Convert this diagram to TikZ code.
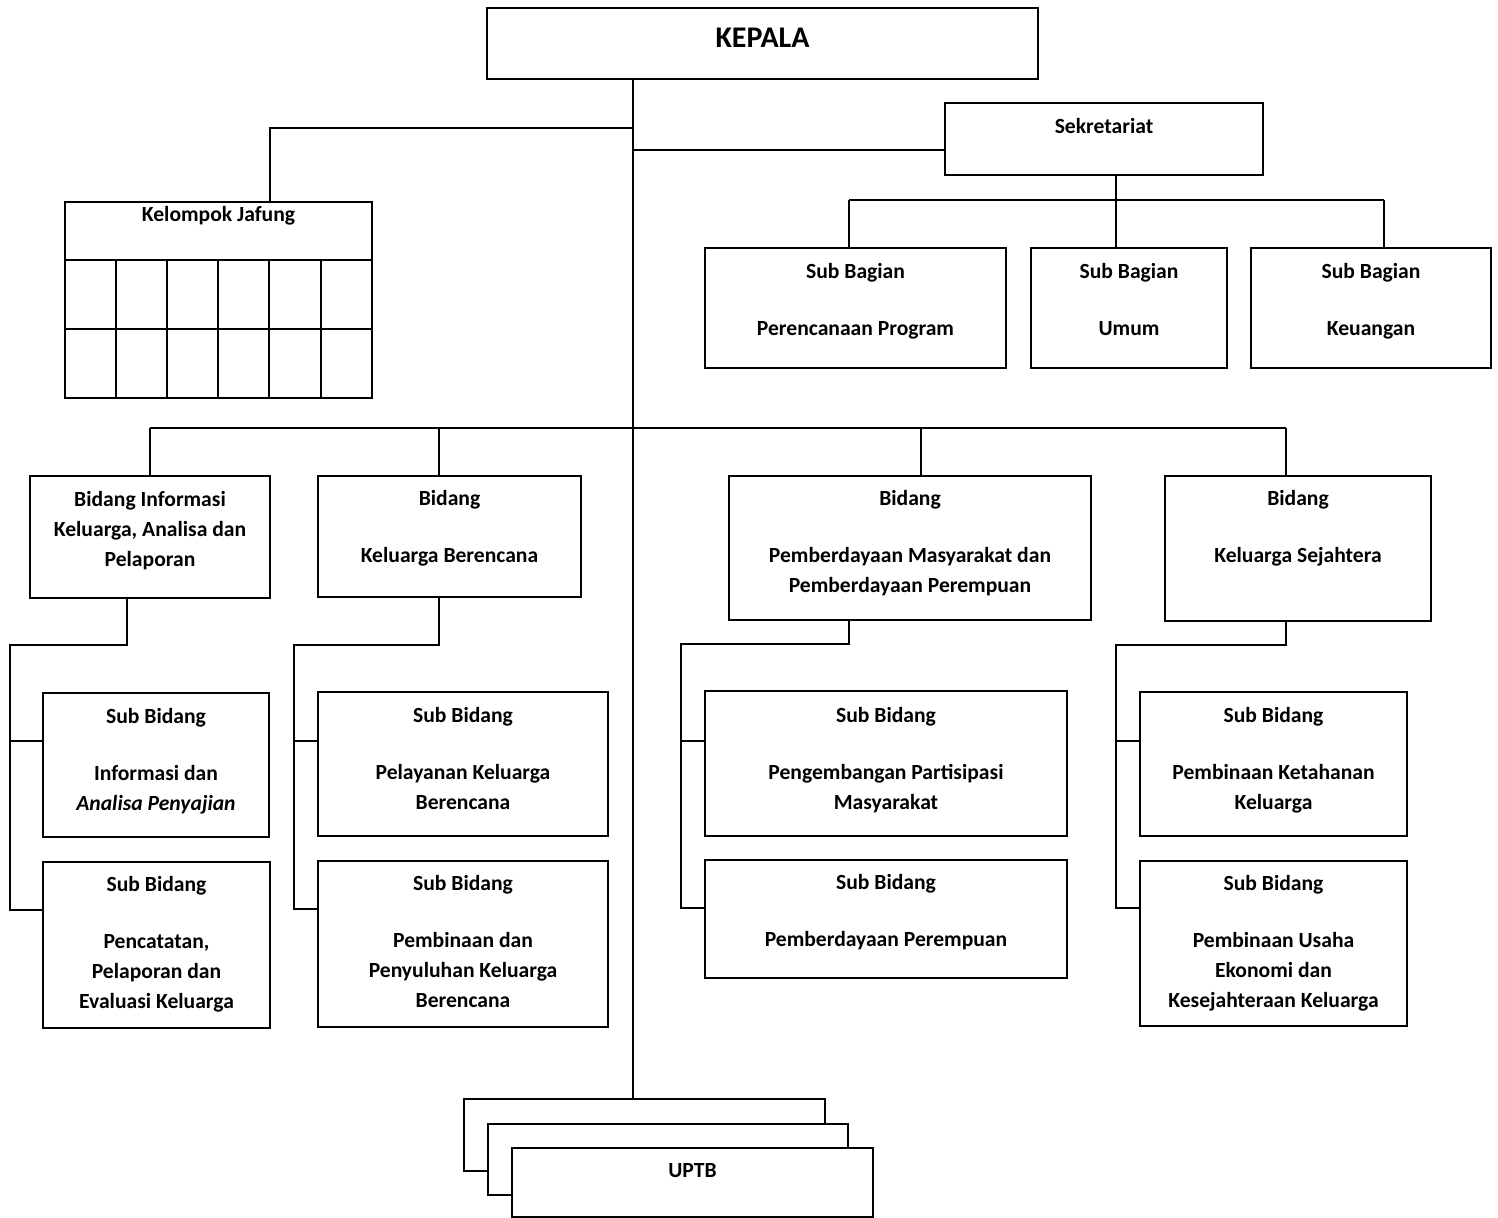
\documentclass[tikz,border=0pt]{standalone}
\usepackage{fontspec}
\setmainfont{Carlito}
\tikzset{
  bx/.style={draw, line width=0.9pt, inner sep=0pt, outer sep=0pt, anchor=north west, fill=white},
  tx/.style={font=\bfseries\fontsize{10.8}{15}\selectfont, align=center, inner sep=0pt, anchor=north},
  ln/.style={line width=0.9pt}
}
\newcommand\mkbox[5]{\node[bx, minimum width={(#4-#2)*0.5pt}, minimum height={(#5-#3)*0.5pt}] (#1) at (#2,#3) {};}
\begin{document}
\begin{tikzpicture}[x=0.5pt,y=-0.5pt]
\useasboundingbox (0,0) rectangle (1498,1218);
% boxes
\mkbox{kepala}{487}{8}{1038}{79}
\mkbox{sek}{945}{103}{1263}{175}
\mkbox{jafung}{65}{202}{372}{398}
\mkbox{sbg1}{705}{248}{1006}{368}
\mkbox{sbg2}{1031}{248}{1227}{368}
\mkbox{sbg3}{1251}{248}{1491}{368}
\mkbox{bid1}{30}{476}{270}{598}
\mkbox{bid2}{318}{476}{581}{597}
\mkbox{bid3}{729}{476}{1091}{620}
\mkbox{bid4}{1165}{476}{1431}{621}
\mkbox{sa1}{43}{693}{269}{837}
\mkbox{sa2}{43}{862}{270}{1028}
\mkbox{sb1}{318}{692}{608}{836}
\mkbox{sb2}{318}{861}{608}{1027}
\mkbox{sc1}{705}{691}{1067}{836}
\mkbox{sc2}{705}{860}{1067}{978}
\mkbox{sd1}{1140}{692}{1407}{836}
\mkbox{sd2}{1140}{861}{1407}{1026}
\mkbox{uA}{464}{1099}{825}{1171}
\mkbox{uB}{488}{1124}{848}{1195}
\mkbox{uC}{512}{1148}{873}{1217}

% texts
\node[font=\bfseries\fontsize{15}{18}\selectfont, inner sep=0pt] (kepalat) at (kepala.north |- 0,38) {KEPALA};
\node[tx] (sekt) at (sek.north |- 0,112) {\strut Sekretariat};
\node[tx] (jafungt) at (jafung.north |- 0,200) {\strut Kelompok Jafung};
\node[tx] (sbg1t) at (sbg1.north |- 0,257) {\strut Sub Bagian\\[13.5pt]Perencanaan Program};
\node[tx] (sbg2t) at (sbg2.north |- 0,257) {\strut Sub Bagian\\[13.5pt]Umum};
\node[tx] (sbg3t) at (sbg3.north |- 0,257) {\strut Sub Bagian\\[13.5pt]Keuangan};
\node[tx] (bid1t) at (bid1.north |- 0,485) {\strut Bidang Informasi\\Keluarga, Analisa dan\\Pelaporan};
\node[tx] (bid2t) at (bid2.north |- 0,484) {\strut Bidang\\[13.5pt]Keluarga Berencana};
\node[tx] (bid3t) at (bid3.north |- 0,484) {\strut Bidang\\[13.5pt]Pemberdayaan Masyarakat dan\\Pemberdayaan Perempuan};
\node[tx] (bid4t) at (bid4.north |- 0,484) {\strut Bidang\\[13.5pt]Keluarga Sejahtera};
\node[tx] (sa1t) at (sa1.north |- 0,702) {\strut Sub Bidang\\[13.5pt]Informasi dan\\\textit{Analisa Penyajian}};
\node[tx] (sa2t) at (sa2.north |- 0,870) {\strut Sub Bidang\\[13.5pt]Pencatatan,\\Pelaporan dan\\Evaluasi Keluarga};
\node[tx] (sb1t) at (sb1.north |- 0,701) {\strut Sub Bidang\\[13.5pt]Pelayanan Keluarga\\Berencana};
\node[tx] (sb2t) at (sb2.north |- 0,869) {\strut Sub Bidang\\[13.5pt]Pembinaan dan\\Penyuluhan Keluarga\\Berencana};
\node[tx] (sc1t) at (sc1.north |- 0,701) {\strut Sub Bidang\\[13.5pt]Pengembangan Partisipasi\\Masyarakat};
\node[tx] (sc2t) at (sc2.north |- 0,868) {\strut Sub Bidang\\[13.5pt]Pemberdayaan Perempuan};
\node[tx] (sd1t) at (sd1.north |- 0,701) {\strut Sub Bidang\\[13.5pt]Pembinaan Ketahanan\\Keluarga};
\node[tx] (sd2t) at (sd2.north |- 0,869) {\strut Sub Bidang\\[13.5pt]Pembinaan Usaha\\Ekonomi dan\\Kesejahteraan Keluarga};
\node[tx] (uptbt) at (uC.north |- 0,1156) {\strut UPTB};

% jafung grid
\draw[ln] (jafung.west |- 0,260) -- (jafung.east |- 0,260);
\draw[ln] (jafung.west |- 0,329) -- (jafung.east |- 0,329);
\foreach \xx in {116,167,218,269,321} \draw[ln] (\xx,260) -- (\xx,398);

% spine
\coordinate (spine) at (633,0);
\draw[ln] (spine |- kepala.south) -- (spine |- uA.north);
\draw[ln] (spine |- 0,128) -| (jafung.north -| 270,0);
\draw[ln] (spine |- 0,150) -- (sek.west |- 0,150);
% sekretariat
\draw[ln] (sek.south -| 1116,0) -- (1116,200);
\draw[ln] (849,200) -- (1384,200);
\draw[ln] (849,200) -- (sbg1.north -| 849,0);
\draw[ln] (1116,200) -- (sbg2.north -| 1116,0);
\draw[ln] (1384,200) -- (sbg3.north -| 1384,0);
% bidang bus
\draw[ln] (150,428) -- (1286,428);
\draw[ln] (150,428) -- (bid1.north -| 150,0);
\draw[ln] (439,428) -- (bid2.north -| 439,0);
\draw[ln] (921,428) -- (bid3.north -| 921,0);
\draw[ln] (1286,428) -- (bid4.north -| 1286,0);
% group 1
\draw[ln] (bid1.south -| 127,0) -- (127,645) -- (10,645) -- (10,910) -- (sa2.west |- 0,910);
\draw[ln] (10,741) -- (sa1.west |- 0,741);
% group 2
\draw[ln] (bid2.south -| 439,0) -- (439,645) -- (294,645) -- (294,909) -- (sb2.west |- 0,909);
\draw[ln] (294,741) -- (sb1.west |- 0,741);
% group 3
\draw[ln] (bid3.south -| 849,0) -- (849,644) -- (681,644) -- (681,908) -- (sc2.west |- 0,908);
\draw[ln] (681,741) -- (sc1.west |- 0,741);
% group 4
\draw[ln] (bid4.south -| 1286,0) -- (1286,645) -- (1116,645) -- (1116,908) -- (sd2.west |- 0,908);
\draw[ln] (1116,741) -- (sd1.west |- 0,741);
\end{tikzpicture}
\end{document}
